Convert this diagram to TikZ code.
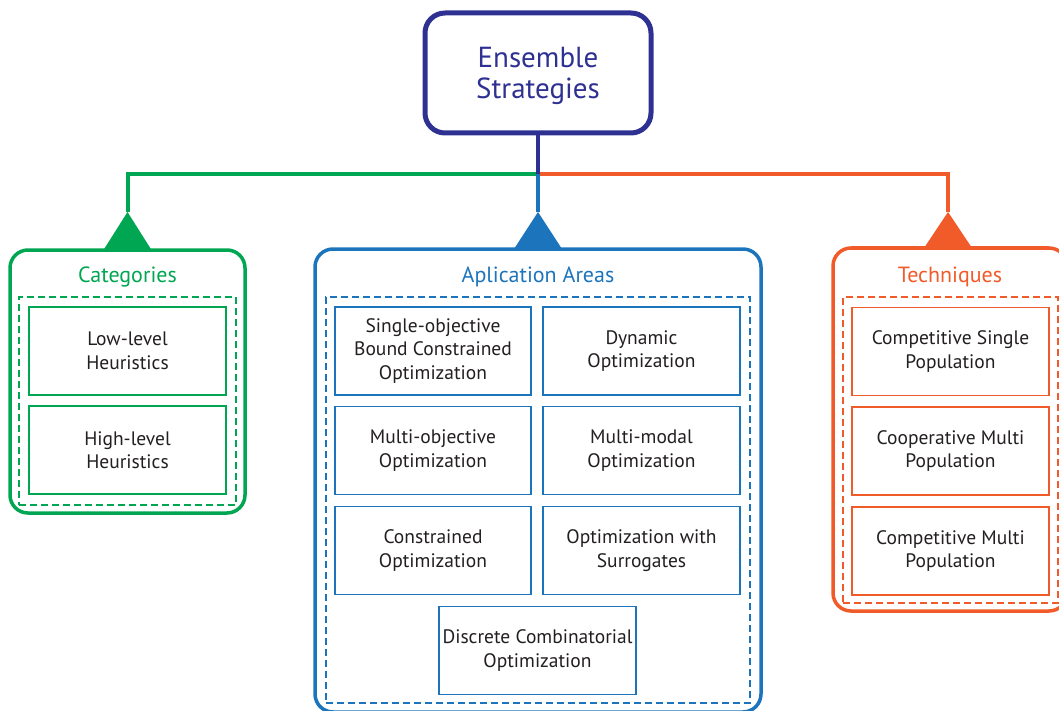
\documentclass[tikz,border=0pt]{standalone}
\usepackage{fontspec}
\setmainfont{PT Sans}
\definecolor{navy}{HTML}{2E3192}
\definecolor{leafgreen}{HTML}{00A651}
\definecolor{areablue}{HTML}{1C75BC}
\definecolor{techorange}{HTML}{F15A29}
\definecolor{ink}{HTML}{231F20}
\begin{document}
\begin{tikzpicture}[x=1pt,y=-1pt,
  rootlabel/.style={align=center, text=navy, yshift=-2.5pt, font=\fontsize{29}{31}\selectfont},
  panel/.style={draw=#1, line width=3.5pt, rounded corners=18pt, inner sep=0pt},
  dashframe/.style={draw=#1, line width=1.5pt, dash pattern=on 7pt off 4pt, inner sep=0pt},
  item/.style={draw=#1, line width=1.5pt, fill=white, inner sep=0pt,
    minimum width=197pt, minimum height=88pt, align=center, text=ink,
    font=\fontsize{19.5}{23.5}\selectfont},
  heading/.style={text=#1, font=\fontsize{22}{26}\selectfont},
  wire/.style={line width=4pt},
  tip/.style={fill=#1}]
\useasboundingbox (0,0) rectangle (1059,711);

% root box
\node[draw=navy, line width=5pt, rounded corners=20pt, minimum width=226pt, minimum height=120pt,
  inner sep=0pt, label={[rootlabel]center:{Ensemble\\Strategies}}]
  (root) at (538,73) {};

% three panels
\node[panel=leafgreen, minimum width=235pt, minimum height=263pt] (catpanel) at (127.5,381.5) {};
\node[panel=areablue, minimum width=446pt, minimum height=463pt] (areapanel) at (538,480.5) {};
\node[panel=techorange, minimum width=234pt, minimum height=363pt] (techpanel) at (950,429.5) {};

\node[dashframe=leafgreen, minimum width=217pt, minimum height=208pt] (catframe) at (127.5,401) {};
\node[dashframe=areablue, minimum width=424pt, minimum height=406pt] (areaframe) at (538,500) {};
\node[dashframe=techorange, minimum width=215pt, minimum height=306pt] (techframe) at (950.5,450) {};

\node[heading=leafgreen] (cattitle) at (127.5,276.5) {Categories};
\node[heading=areablue] (areatitle) at (538,276.5) {Aplication Areas};
\node[heading=techorange] (techtitle) at (950,276.5) {Techniques};

% categories
\node[item=leafgreen] (low) at (127.5,351) {Low-level\\Heuristics};
\node[item=leafgreen] (high) at (127.5,450) {High-level\\Heuristics};

% application areas
\node[item=areablue, minimum width=196pt] (sobc) at (433,351) {Single-objective\\Bound Constrained\\Optimization};
\node[item=areablue] (dyn) at (641.5,351) {Dynamic\\Optimization};
\node[item=areablue, minimum width=196pt] (mo) at (433,450.5) {Multi-objective\\Optimization};
\node[item=areablue] (mm) at (641.5,450.5) {Multi-modal\\Optimization};
\node[item=areablue, minimum width=196pt] (con) at (433,550.5) {Constrained\\Optimization};
\node[item=areablue] (sur) at (641.5,550.5) {Optimization with\\Surrogates};
\node[item=areablue] (dco) at (537.5,650.5) {Discrete Combinatorial\\Optimization};

% techniques
\node[item=techorange] (csp) at (950.5,351.5) {Competitive Single\\Population};
\node[item=techorange] (cmp) at (950.5,451) {Cooperative Multi\\Population};
\node[item=techorange] (kmp) at (950.5,551) {Competitive Multi\\Population};

% connectors
\coordinate (hub) at (538,174);
\coordinate (catapex) at (127.5,212);
\coordinate (areaapex) at (538,212);
\coordinate (techapex) at (948,212);

\draw[wire, leafgreen] (hub) -| (catapex);
\draw[wire, techorange] (hub) -| (techapex);
\draw[wire, navy] (root.south) -- (hub);
\draw[wire, areablue] (hub) -- (areaapex);

\fill[tip=leafgreen] (catapex) -- (151.5,250) -- (103.5,250) -- cycle;
\fill[tip=areablue] (areaapex) -- (562,249) -- (514,249) -- cycle;
\fill[tip=techorange] (techapex) -- (972,248) -- (924,248) -- cycle;
\end{tikzpicture}
\end{document}
